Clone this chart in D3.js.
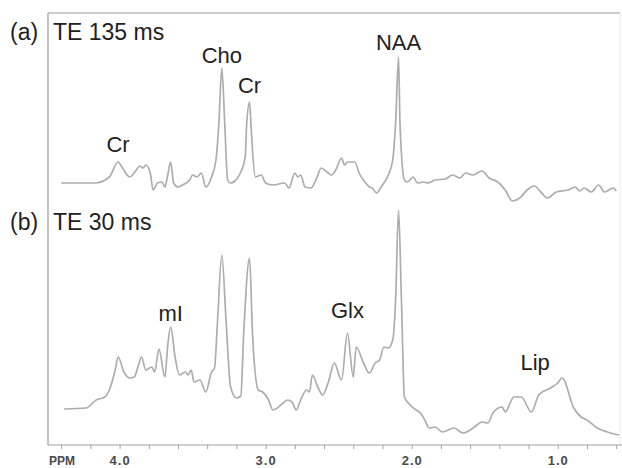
<!DOCTYPE html>
<html>
<head>
<meta charset="utf-8">
<script src="https://cdn.jsdelivr.net/npm/d3@7"></script>
<style>
  html, body { margin: 0; padding: 0; background: #fff; }
  svg { display: block; }
  text { font-family: "Liberation Sans", Arial, Helvetica, sans-serif; }
</style>
</head>
<body>
<script>
// ---- Data (chemical shift in ppm, signal in arbitrary units) ----
const ppmA = [4.40,4.29,4.17,4.07,4.01,3.98,3.93,3.90,3.86,3.84,3.82,3.79,3.77,3.74,3.71,3.69,3.67,3.65,3.63,3.60,
  3.57,3.52,3.50,3.47,3.44,3.41,3.37,3.34,3.32,3.30,3.28,3.26,3.24,3.21,3.18,3.14,3.13,3.11,3.10,3.09,
  3.07,3.03,3.00,2.95,2.87,2.84,2.80,2.78,2.76,2.73,2.69,2.65,2.62,2.58,2.55,2.52,2.48,2.46,2.44,2.39,
  2.36,2.32,2.29,2.27,2.24,2.21,2.16,2.13,2.11,2.09,2.08,2.05,2.03,1.99,1.96,1.92,1.89,1.84,1.77,1.72,
  1.67,1.63,1.58,1.52,1.47,1.41,1.36,1.31,1.26,1.21,1.16,1.11,1.07,1.01,0.93,0.88,0.85,0.82,0.77,0.72,
  0.68,0.62,0.60];
const sigA = [12,12,12,18,33,27,18,22,29,27,30,22,5,12,13,8,20,33,12,8,
  10,15,20,18,22,8,18,35,72,127,72,15,12,14,20,38,70,93,70,45,
  18,20,12,10,12,7,22,18,20,8,7,17,27,23,20,25,37,30,33,33,
  22,13,8,7,2,8,20,35,72,138,72,15,13,18,12,13,12,15,16,20,
  17,22,20,24,17,13,5,-6,-3,5,9,2,-3,3,5,8,4,7,3,10,
  3,7,4];

const ppmB = [4.38,4.23,4.16,4.10,4.07,4.03,4.01,3.97,3.93,3.90,3.87,3.85,3.82,3.78,3.76,3.73,3.69,3.67,3.65,3.62,
  3.59,3.55,3.53,3.51,3.49,3.45,3.41,3.37,3.35,3.33,3.30,3.27,3.24,3.20,3.17,3.15,3.11,3.09,3.05,3.02,
  2.98,2.95,2.92,2.88,2.85,2.82,2.79,2.76,2.72,2.70,2.68,2.64,2.61,2.57,2.53,2.48,2.44,2.40,2.38,2.33,
  2.29,2.25,2.22,2.19,2.16,2.13,2.11,2.09,2.07,2.05,2.01,1.97,1.94,1.91,1.88,1.84,1.79,1.71,1.65,1.57,
  1.52,1.48,1.44,1.38,1.36,1.30,1.25,1.18,1.13,1.05,1.00,0.97,0.89,0.84,0.80,0.73,0.66,0.58];
const sigB = [31,32,40,43,50,70,83,68,62,63,75,83,70,73,68,91,63,95,113,83,
  65,68,65,70,58,60,48,68,72,117,185,117,53,42,44,107,182,107,50,48,
  40,30,32,37,40,38,30,40,50,48,65,52,45,58,77,60,107,63,93,77,
  67,77,80,93,92,100,140,230,140,43,35,30,27,20,12,13,8,12,7,13,
  18,17,28,33,28,43,43,28,45,52,57,62,32,23,20,12,8,5];

const minorTicks = [4.4,4.2,4.0,3.8,3.6,3.4,3.2,3.0,2.8,2.6,2.4,2.2,2.0,1.8,1.6,1.4,1.2,1.0,0.8,0.6];
const majorTicks = [4.0,3.0,2.0,1.0];
const majorLabels = ["4.0","3.0","2.0","1.0"];

const panelLabels = ["(a)","(b)"];
const panelTitles = ["TE 135 ms","TE 30 ms"];
const peakNamesA = ["Cr","Cho","Cr","NAA"];
const peakPpmA = [4.01,3.30,3.11,2.09];
const peakSigA = [33,127,93,138];
const peakNamesB = ["mI","Glx","Lip"];
const peakPpmB = [3.65,2.44,0.97];
const peakSigB = [113,107,62];

// ---- Layout ----
const W = 622, H = 468;
const mLeft = 48, mRight = 622, mTop = 13, axisY = 445;

const svg = d3.select("body").append("svg").attr("width", W).attr("height", H);

const x = d3.scaleLinear().domain([4.49, 0.56]).range([mLeft, mRight]);
const yA = d3.scaleLinear().domain([0, 140]).range([195, 55]);
const yB = d3.scaleLinear().domain([0, 230]).range([440, 210]);

// frame
svg.append("line").attr("x1", mLeft).attr("x2", mRight - 2).attr("y1", mTop).attr("y2", mTop)
  .attr("stroke", "#9a9a9a").attr("stroke-width", 1.2);
svg.append("line").attr("x1", mLeft).attr("x2", mLeft).attr("y1", mTop).attr("y2", axisY)
  .attr("stroke", "#9a9a9a").attr("stroke-width", 1.2);
svg.append("line").attr("x1", mRight - 2).attr("x2", mRight - 2).attr("y1", mTop).attr("y2", axisY)
  .attr("stroke", "#ececec").attr("stroke-width", 1);

// axis
const axisMinor = d3.axisBottom(x).tickValues(minorTicks).tickSize(4).tickFormat("");
const gMinor = svg.append("g").attr("transform", `translate(0,${axisY})`).call(axisMinor);
gMinor.select(".domain").attr("d", `M${mLeft},0H${mRight}`).attr("stroke", "#a0a0a0").attr("stroke-width", 1.2);
gMinor.selectAll(".tick line").attr("stroke", "#a0a0a0");

const axisMajor = d3.axisBottom(x).tickValues(majorTicks).tickSize(0).tickPadding(11)
  .tickFormat((d, i) => majorLabels[i]);
const gMajor = svg.append("g").attr("transform", `translate(0,${axisY})`).call(axisMajor);
gMajor.select(".domain").remove();
gMajor.selectAll(".tick text").attr("font-size", 13).attr("font-weight", "bold")
  .attr("fill", "#4a4a4a").attr("font-family", "Liberation Sans, Arial, sans-serif")
  .attr("letter-spacing", 1);

svg.append("text").attr("x", 49).attr("y", 465).text("PPM")
  .attr("font-size", 12).attr("font-weight", "bold").attr("fill", "#4a4a4a");

// spectra
const lineA = d3.line().curve(d3.curveMonotoneX).x((d, i) => x(ppmA[i])).y((d, i) => yA(sigA[i]));
const lineB = d3.line().curve(d3.curveMonotoneX).x((d, i) => x(ppmB[i])).y((d, i) => yB(sigB[i]));
svg.append("path").attr("d", lineA(sigA)).attr("fill", "none")
  .attr("stroke", "#adadad").attr("stroke-width", 1.7).attr("stroke-linejoin", "round");
svg.append("path").attr("d", lineB(sigB)).attr("fill", "none")
  .attr("stroke", "#adadad").attr("stroke-width", 1.7).attr("stroke-linejoin", "round");

// panel titles
const titleY = [40, 230];
panelLabels.forEach((t, i) => {
  svg.append("text").attr("x", 10).attr("y", titleY[i]).text(t)
    .attr("font-size", 23).attr("fill", "#222");
  svg.append("text").attr("x", 53).attr("y", titleY[i]).text(panelTitles[i])
    .attr("font-size", 23).attr("fill", "#222");
});

// peak annotations (offset above peak in px)
const offA = [10, 5, 9, 7];
peakNamesA.forEach((t, i) => {
  svg.append("text").attr("x", x(peakPpmA[i])).attr("y", yA(peakSigA[i]) - offA[i])
    .attr("text-anchor", "middle").attr("font-size", 22).attr("fill", "#222").text(t);
});
const offB = [6, 15, 8];
const dxB = [0, 0, -27];
peakNamesB.forEach((t, i) => {
  svg.append("text").attr("x", x(peakPpmB[i]) + dxB[i]).attr("y", yB(peakSigB[i]) - offB[i])
    .attr("text-anchor", "middle").attr("font-size", 22).attr("fill", "#222").text(t);
});
</script>
</body>
</html>
